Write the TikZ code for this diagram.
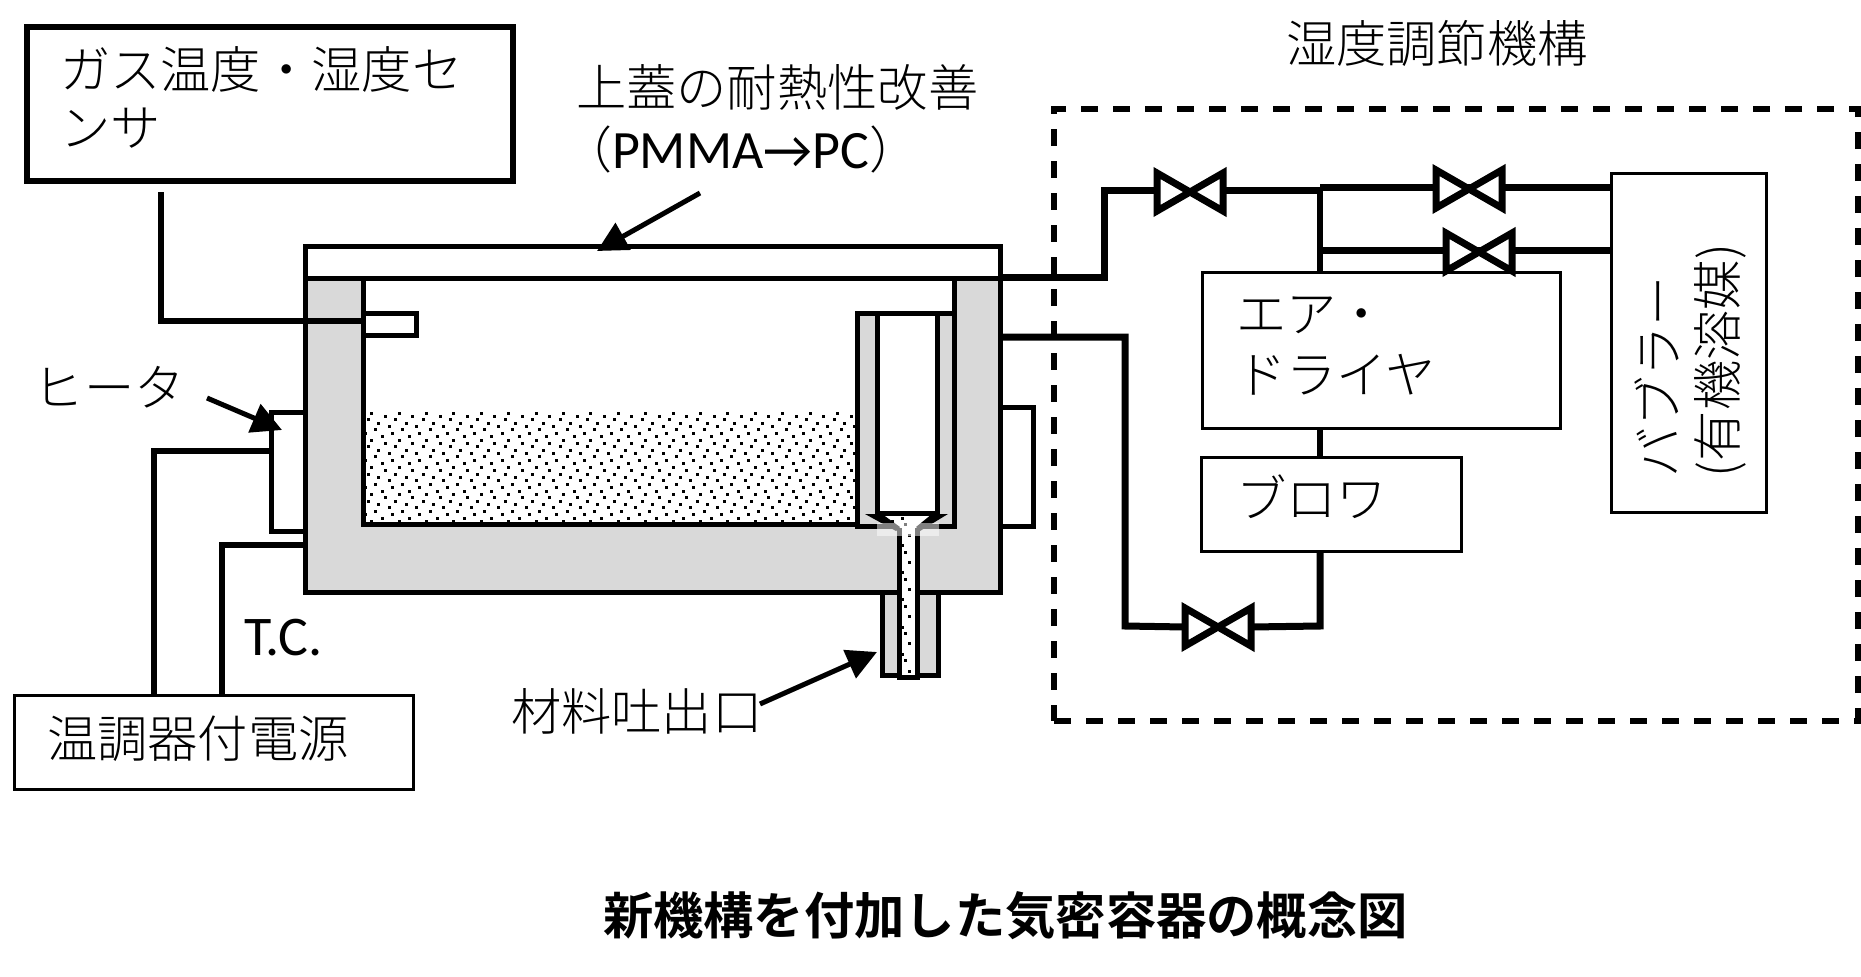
\documentclass[tikz,border=0pt]{standalone}
\usepackage{fontspec}
\usetikzlibrary{arrows.meta}
\setmainfont{Noto Sans CJK JP Light}[BoldFont=Noto Sans CJK JP Bold]
\newfontfamily\latfont{Carlito}
\definecolor{bodygray}{HTML}{D9D9D9}
\newcommand{\stipple}[4]{% x0 y0 x1 y1 clip rectangle, lattice anchored at (360,405)
  \begin{scope}
    \clip (#1,#2) rectangle (#3,#4);
    \foreach \ti in {-1,...,19}{
      \foreach \tj in {-1,...,11}{
        \foreach \dx/\dy in {11.7/8,25.3/11,8.3/14.7,18.7/18,29/21.3,15.3/24.7,5/28.3,22.3/31.7}{
          \fill[black] ({360+\ti*27.4+\dx-1.5},{405+\tj*27.2+\dy-1.5}) rectangle ++(3,3);
        }
      }
    }
  \end{scope}}
\tikzset{
  x=1pt,y=-1pt,
  jp/.style={font=\fontsize{50.3}{57}\selectfont,inner sep=0pt,outer sep=0pt,anchor=base west},
  box/.style={draw=black,fill=white,inner sep=0pt,outer sep=0pt,line width=3pt},
  thickbox/.style={box,line width=5pt},
  dashbox/.style={draw=black,inner sep=0pt,outer sep=0pt,line width=5.5pt,dash pattern=on 17pt off 15pt},
  pipe/.style={draw=black,line width=7pt,line join=miter},
  wire/.style={draw=black,line width=6pt,line join=miter},
  wall/.style={draw=black,line width=5pt,line join=miter},
  valve/.style={inner sep=0pt,outer sep=0pt},
  bowtie/.style={draw=black,fill=white,line width=7pt,line join=miter},
  pointer/.style={draw=black,line width=5pt,-{Triangle[length=30pt,width=30pt]}},
}
\begin{document}
\begin{tikzpicture}
\useasboundingbox[fill=white] (0,0) rectangle (1861,977);

% boxes and labels at left
\node[thickbox,line width=6pt,minimum width=486pt,minimum height=154pt] (sensor) at (270,104) {};
\node[box,minimum width=399pt,minimum height=94pt] (power) at (213.5,742) {};
\node[jp] (sensorlabel) at (60,88) {ガス温度・湿度セ};
\node[jp] (sensorlabelb) at (60,146) {ンサ};
\node[jp] (powerlabel) at (47,757) {温調器付電源};
\node[jp] (heaterlabel) at (34,406) {ヒータ};
\node[jp,font=\latfont\fontsize{56}{57}\selectfont] (tclabel) at (244,655) {T.C.};
\node[jp] (lidlabel) at (576,106) {上蓋の耐熱性改善};
\node[jp,font=\fontsize{50}{57}\selectfont] (lidlabelb) at (562,168) {（{\latfont\fontsize{54}{57}\selectfont PMMA→PC}）};
\node[jp] (outletlabel) at (511,730) {材料吐出口};
\node[jp] (humlabel) at (1286,62) {湿度調節機構};
\node[jp,font=\bfseries\fontsize{50.3}{57}\selectfont] (title) at (603,934) {新機構を付加した気密容器の概念図};

% heaters
\node[thickbox,minimum width=34pt,minimum height=119pt] (heaterL) at (288,471.5) {};
\node[thickbox,minimum width=33pt,minimum height=119pt] (heaterR) at (1016.5,466.5) {};

% vessel
\draw[wall,fill=white] (305,246) rectangle (1000,278);
\draw[wall,fill=bodygray] (305,278) -- (363,278) -- (363,524) -- (954,524) -- (954,278) -- (1000,278) -- (1000,592) -- (305,592) -- cycle;
\stipple{366}{412}{857}{522}
\node[draw=black,line width=5pt,inner sep=0pt,outer sep=0pt,fill=white,minimum width=53pt,minimum height=22pt] (stub) at (389.5,324) {};
% nozzle
\draw[wall,fill=bodygray] (857,313) rectangle (954,526);
\draw[wall,fill=white] (877,313) rectangle (937,513);
\fill[white] (880,516) -- (935,516) -- (917,530) -- (899,530) -- cycle;
\begin{scope}
\clip (880,516) -- (935,516) -- (917,530) -- (899,530) -- cycle;
\stipple{880}{516}{935}{530}
\end{scope}
\fill[black] (865,514) -- (882,514) -- (900,527) -- (896,531) -- cycle;
\fill[black] (948,514) -- (932,514) -- (916,527) -- (920,531) -- cycle;
\draw[wall,fill=bodygray] (882,592) rectangle (938,675);
\fill[white] (899,528) rectangle (917,677);
\stipple{901}{530}{915}{675}
\draw[wall] (899,528) -- (899,677) -- (917,677) -- (917,528);
\fill[white,opacity=.5] (877,523) rectangle (939,536);

% left wires
\coordinate (senA) at (161,192);
\coordinate (senB) at (161,321);
\coordinate (senC) at (363,321);
\draw[wire] (senA) -- (senB) -- (senC);
\coordinate (pwrA) at (154,695);
\coordinate (pwrB) at (154,451);
\coordinate (pwrC) at (271,451);
\draw[wire] (pwrA) -- (pwrB) -- (pwrC);
\coordinate (tcA) at (222,695);
\coordinate (tcB) at (222,545);
\coordinate (tcC) at (305,545);
\draw[wire] (tcA) -- (tcB) -- (tcC);

% pointers
\coordinate (ptrLidA) at (700,193);
\coordinate (ptrLidB) at (597,251);
\draw[pointer] (ptrLidA) -- (ptrLidB);
\coordinate (ptrHeatA) at (207,398);
\coordinate (ptrHeatB) at (282,430);
\draw[pointer] (ptrHeatA) -- (ptrHeatB);
\coordinate (ptrOutA) at (760,704);
\coordinate (ptrOutB) at (877,652);
\draw[pointer] (ptrOutA) -- (ptrOutB);

% humidity unit
\node[dashbox,minimum width=804pt,minimum height=612pt] (unit) at (1456,415) {};
\node[box,minimum width=358pt,minimum height=156pt] (dryer) at (1381,350) {};
\node[box,minimum width=260pt,minimum height=94pt] (blower) at (1331,504) {};
\node[box,minimum width=155pt,minimum height=339pt] (bubbler) at (1688.5,342.5) {};
\node[jp] (dryerlabel) at (1236,332) {エア・};
\node[jp] (dryerlabelb) at (1236,393) {ドライヤ};
\node[jp] (blowerlabel) at (1236,517) {ブロワ};
\node[jp,rotate=90] (bublabel) at (1677,477) {バブラー};
\node[jp,rotate=90] (bublabelb) at (1736,477) {(有機溶媒)};

% valves
\node[valve,minimum width=66pt,minimum height=38pt] (v1) at (1190,192) {};
\node[valve,minimum width=66pt,minimum height=38pt] (v2) at (1469,189) {};
\node[valve,minimum width=66pt,minimum height=38pt] (v3) at (1479,252) {};
\node[valve,minimum width=66pt,minimum height=38pt] (v4) at (1218,627) {};

% pipes
\coordinate (p1a) at (1000,277);
\coordinate (p1b) at (1104,277);
\coordinate (p1c) at (1104,190);
\coordinate (junc) at (1320,190);
\draw[pipe] (p1a) -- (p1b) -- (p1c) -- (v1.west |- p1c);
\draw[pipe] (v1.east |- junc) -- (junc);
\coordinate (j2) at (1320,187);
\coordinate (j3) at (1320,250);
\draw[pipe] (j2) -- (bubbler.west |- j2);
\draw[pipe] (j3) -- (bubbler.west |- j3);
\draw[pipe,line width=6pt] (junc) -- (dryer.north -| junc);
\draw[pipe,line width=6pt] (dryer.south -| junc) -- (blower.north -| junc);
\coordinate (p2a) at (1000,337);
\coordinate (p2b) at (1125,337);
\coordinate (p2c) at (1125,626);
\coordinate (p2d) at (1320,626);
\draw[pipe] (p2a) -- (p2b) -- (p2c) -- (v4.west);
\draw[pipe] (v4.east) -- (p2d) -- (blower.south -| p2d);
\foreach \v in {v1,v2,v3,v4}{
  \draw[bowtie] (\v.north west) -- (\v.south east) -- (\v.north east) -- (\v.south west) -- cycle;
}
\end{tikzpicture}
\end{document}
